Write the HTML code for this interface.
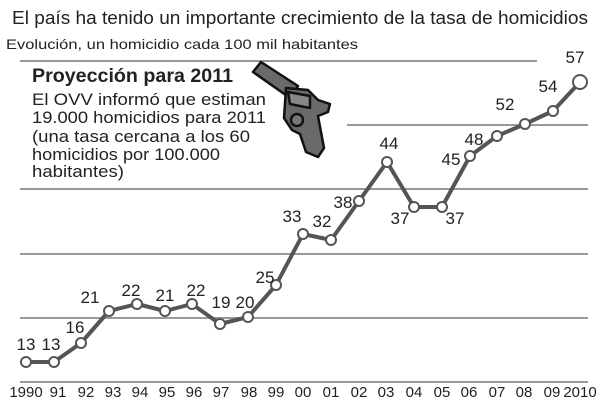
<!DOCTYPE html>
<html><head><meta charset="utf-8"><style>
body{margin:0;background:#fff;}
svg text{font-family:"Liberation Sans",sans-serif;fill:#222;}
</style></head><body>
<svg width="600" height="400" xmlns="http://www.w3.org/2000/svg">
<text x="12" y="24" font-size="18" textLength="576" lengthAdjust="spacingAndGlyphs">El país ha tenido un importante crecimiento de la tasa de homicidios</text>
<text x="6" y="49" font-size="14" textLength="352" lengthAdjust="spacingAndGlyphs">Evolución, un homicidio cada 100 mil habitantes</text>
<g stroke="#999" stroke-width="2">
<line x1="20" y1="61" x2="537" y2="61"/>
<line x1="347" y1="125" x2="588" y2="125"/>
<line x1="20" y1="189" x2="588" y2="189"/>
<line x1="20" y1="254" x2="588" y2="254"/>
<line x1="20" y1="318" x2="588" y2="318"/>
<line x1="20" y1="382" x2="588" y2="382"/>
</g>
<text x="32" y="82" font-size="19" font-weight="bold" textLength="201" lengthAdjust="spacingAndGlyphs">Proyección para 2011</text>
<g font-size="17">
<text x="32" y="105" textLength="234" lengthAdjust="spacingAndGlyphs">El OVV informó que estiman</text>
<text x="32" y="123" textLength="234" lengthAdjust="spacingAndGlyphs">19.000 homicidios para 2011</text>
<text x="32" y="142" textLength="218" lengthAdjust="spacingAndGlyphs">(una tasa cercana a los 60</text>
<text x="32" y="160" textLength="188" lengthAdjust="spacingAndGlyphs">homicidios por 100.000</text>
<text x="32" y="177" textLength="92" lengthAdjust="spacingAndGlyphs">habitantes)</text>
</g>
<g stroke="#111" stroke-width="2.5" fill="#6a6a6a" stroke-linejoin="round">
<path d="M253 72 L261 62 L298 86 L290 98 Z"/>
<path d="M286 88 L308 90 L318 100 L330 104 L328 112 L318 116 L324 148 L318 157 L306 152 L300 134 L292 130 L284 118 Z"/>
<path d="M288 92 L310 96 L310 108 L290 104 Z" fill="#888"/>
<circle cx="297" cy="120" r="6" fill="#777"/>
</g>
<polyline fill="none" stroke="#555" stroke-width="4" stroke-linejoin="round" points="26,362 54,362 81,343 109,311 137,304 165,311 192,304 220,324 248,317 276,285 303,234 331,240 359,201 387,162 414,207 442,207 470,156 497,136 525,124 553,111 580,82"/>
<g fill="#fff" stroke="#555" stroke-width="2">
<circle cx="26" cy="362" r="5"/><circle cx="54" cy="362" r="5"/><circle cx="81" cy="343" r="5"/><circle cx="109" cy="311" r="5"/><circle cx="137" cy="304" r="5"/><circle cx="165" cy="311" r="5"/><circle cx="192" cy="304" r="5"/><circle cx="220" cy="324" r="5"/><circle cx="248" cy="317" r="5"/><circle cx="276" cy="285" r="5"/><circle cx="303" cy="234" r="5"/><circle cx="331" cy="240" r="5"/><circle cx="359" cy="201" r="5"/><circle cx="387" cy="162" r="5"/><circle cx="414" cy="207" r="5"/><circle cx="442" cy="207" r="5"/><circle cx="470" cy="156" r="5"/><circle cx="497" cy="136" r="5"/><circle cx="525" cy="124" r="5"/><circle cx="553" cy="111" r="5"/><circle cx="580" cy="82" r="7"/>
</g>
<g font-size="17" text-anchor="middle">
<text x="26" y="350">13</text><text x="51" y="350">13</text><text x="75" y="333">16</text>
<text x="90" y="303">21</text><text x="131" y="296">22</text><text x="165" y="301">21</text>
<text x="196" y="296">22</text><text x="221" y="308">19</text><text x="245" y="308">20</text>
<text x="265" y="283">25</text><text x="292" y="222">33</text><text x="322" y="227">32</text>
<text x="343" y="208">38</text><text x="389" y="149">44</text><text x="400" y="224">37</text>
<text x="455" y="224">37</text><text x="451" y="165">45</text><text x="474" y="145">48</text>
<text x="505" y="110">52</text><text x="548" y="92">54</text><text x="575" y="63">57</text>
</g>
<g font-size="15" text-anchor="middle">
<text x="26" y="397">1990</text><text x="58" y="397">91</text><text x="86" y="397">92</text><text x="113" y="397">93</text><text x="140" y="397">94</text><text x="167" y="397">95</text><text x="194" y="397">96</text><text x="221" y="397">97</text><text x="249" y="397">98</text><text x="276" y="397">99</text><text x="303" y="397">00</text><text x="331" y="397">01</text><text x="359" y="397">02</text><text x="386" y="397">03</text><text x="414" y="397">04</text><text x="442" y="397">05</text><text x="469" y="397">06</text><text x="497" y="397">07</text><text x="524" y="397">08</text><text x="552" y="397">09</text><text x="580" y="397">2010</text>
</g>
</svg>
</body></html>
